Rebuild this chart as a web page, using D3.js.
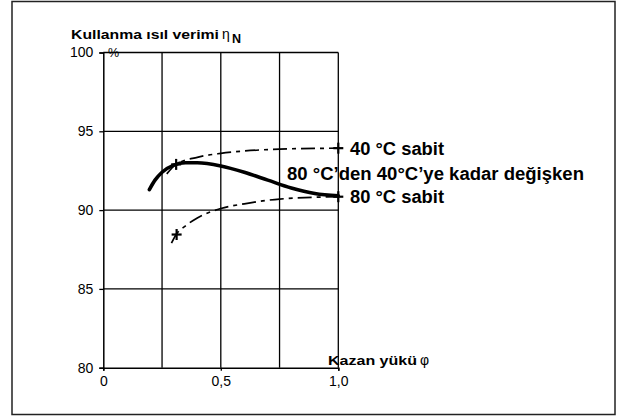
<!doctype html>
<html>
<head>
<meta charset="utf-8">
<style>
    body { margin: 0; background: #fff; }
    text { font-family: "Liberation Sans", Arial, sans-serif; fill: #000; }
</style>
<script src="https://d3js.org/d3.v7.min.js"></script>
</head>
<body>
<svg width="618" height="417"></svg>
<script>
// tick values and labels
var xTicks = [0, 0.5, 1.0];
var xTickLabels = ["0", "0,5", "1,0"];
var xGrid = [0.25, 0.5, 0.75, 1.0];
var yTicks = [80, 85, 90, 95, 100];

// curves (load phi, efficiency %)
var loadVarying = [0.196, 0.22, 0.25, 0.3, 0.35, 0.4, 0.5, 0.6, 0.7, 0.8, 0.9, 1.0];
var effVarying  = [91.3, 91.9, 92.4, 92.85, 93.0, 93.0, 92.8, 92.4, 91.9, 91.4, 91.05, 90.9];

var load40 = [0.27, 0.31, 0.4, 0.5, 0.6, 0.75, 1.0];
var eff40  = [92.3, 92.9, 93.35, 93.6, 93.75, 93.87, 93.93];

var load80 = [0.29, 0.31, 0.35, 0.4, 0.5, 0.6, 0.75, 1.0];
var eff80  = [87.9, 88.45, 89.0, 89.5, 90.1, 90.4, 90.7, 90.85];

// cross markers
var markLoad = [0.31, 1.0, 0.312, 1.0];
var markEff  = [92.9, 93.93, 88.45, 90.85];

var svg = d3.select("svg");

// outer frame
svg.append("rect")
   .attr("x", 12).attr("y", 1.5)
   .attr("width", 603).attr("height", 413)
   .attr("fill", "none")
   .attr("stroke", "#222")
   .attr("stroke-width", 1.5);

var x = d3.scaleLinear().domain([0, 1]).range([103.3, 338.3]);
var y = d3.scaleLinear().domain([80, 100]).range([367.7, 52.5]);

// grid
svg.selectAll(".vgrid")
   .data(xGrid)
   .enter().append("line")
   .attr("x1", function(d) { return x(d); })
   .attr("x2", function(d) { return x(d); })
   .attr("y1", y(80)).attr("y2", y(100))
   .attr("stroke", "#000").attr("stroke-width", 1.3);

svg.selectAll(".hgrid")
   .data(yTicks.slice(1))
   .enter().append("line")
   .attr("x1", x(0)).attr("x2", x(1))
   .attr("y1", function(d) { return y(d); })
   .attr("y2", function(d) { return y(d); })
   .attr("stroke", "#000").attr("stroke-width", 1.3);

// axes
var yAxis = d3.axisLeft(y).tickValues(yTicks).tickSize(4).tickPadding(6);
var gy = svg.append("g").attr("transform", "translate(" + x(0) + ",0)").call(yAxis);
gy.select(".domain").attr("stroke", "#000").attr("stroke-width", 1.5);
gy.selectAll(".tick line").attr("stroke", "#000").attr("stroke-width", 1.3);
gy.selectAll("text").attr("font-size", "14px").attr("font-family", "Liberation Sans, Arial, sans-serif").attr("fill", "#000");

var xAxis = d3.axisBottom(x).tickValues(xTicks)
    .tickFormat(function(d, i) { return xTickLabels[i]; })
    .tickSize(3).tickPadding(5);
var gx = svg.append("g").attr("transform", "translate(0," + y(80) + ")").call(xAxis);
gx.select(".domain").attr("stroke", "#000").attr("stroke-width", 1.5);
gx.selectAll(".tick line").attr("stroke", "#000").attr("stroke-width", 1.3);
gx.selectAll("text").attr("font-size", "14px").attr("font-family", "Liberation Sans, Arial, sans-serif").attr("fill", "#000");

// curves
var line = d3.line()
    .x(function(d) { return x(d[0]); })
    .y(function(d) { return y(d[1]); })
    .curve(d3.curveMonotoneX);

svg.append("path")
   .attr("d", line(d3.zip(load40, eff40)))
   .attr("fill", "none").attr("stroke", "#000")
   .attr("stroke-width", 1.7)
   .attr("stroke-dasharray", "14,5,4,5");

svg.append("path")
   .attr("d", line(d3.zip(load80, eff80)))
   .attr("fill", "none").attr("stroke", "#000")
   .attr("stroke-width", 1.7)
   .attr("stroke-dasharray", "14,5,4,5");

svg.append("path")
   .attr("d", line(d3.zip(loadVarying, effVarying)))
   .attr("fill", "none").attr("stroke", "#000")
   .attr("stroke-width", 3.6)
   .attr("stroke-linecap", "round");

// cross markers
var marks = svg.selectAll(".mark")
   .data(d3.zip(markLoad, markEff))
   .enter().append("g")
   .attr("transform", function(d) { return "translate(" + x(d[0]) + "," + y(d[1]) + ")"; });
marks.append("line").attr("x1", -5).attr("x2", 5).attr("y1", 0).attr("y2", 0)
   .attr("stroke", "#000").attr("stroke-width", 2.2);
marks.append("line").attr("x1", 0).attr("x2", 0).attr("y1", -5.5).attr("y2", 5.5)
   .attr("stroke", "#000").attr("stroke-width", 2.2);

// titles
var title = svg.append("text").attr("y", 38.5)
   .attr("font-size", "12.5px").attr("font-weight", "bold");
title.append("tspan").attr("x", 71).attr("textLength", 148).attr("lengthAdjust", "spacingAndGlyphs")
   .text("Kullanma ısıl verimi");
title.append("tspan").attr("x", 222).attr("font-weight", "normal").attr("font-size", "14px").text("η");
title.append("tspan").attr("x", 232).attr("dy", 4).text("N");

svg.append("text").attr("x", 108).attr("y", 57)
   .attr("font-size", "12.5px").text("%");

var xt = svg.append("text").attr("y", 365)
   .attr("font-size", "12.5px").attr("font-weight", "bold");
xt.append("tspan").attr("x", 328).attr("textLength", 89).attr("lengthAdjust", "spacingAndGlyphs")
   .text("Kazan yükü");
xt.append("tspan").attr("x", 420).attr("font-weight", "normal").attr("font-size", "14px").text("φ");

// curve labels
svg.append("text").attr("x", 350).attr("y", 155)
   .attr("font-size", "17.5px").attr("font-weight", "bold")
   .attr("textLength", 94).attr("lengthAdjust", "spacingAndGlyphs")
   .text("40 °C sabit");
svg.append("text").attr("x", 287).attr("y", 180)
   .attr("font-size", "17.5px").attr("font-weight", "bold")
   .attr("textLength", 297).attr("lengthAdjust", "spacingAndGlyphs")
   .text("80 °C’den 40°C’ye kadar değişken");
svg.append("text").attr("x", 350).attr("y", 203)
   .attr("font-size", "17.5px").attr("font-weight", "bold")
   .attr("textLength", 94).attr("lengthAdjust", "spacingAndGlyphs")
   .text("80 °C sabit");
</script>
</body>
</html>
